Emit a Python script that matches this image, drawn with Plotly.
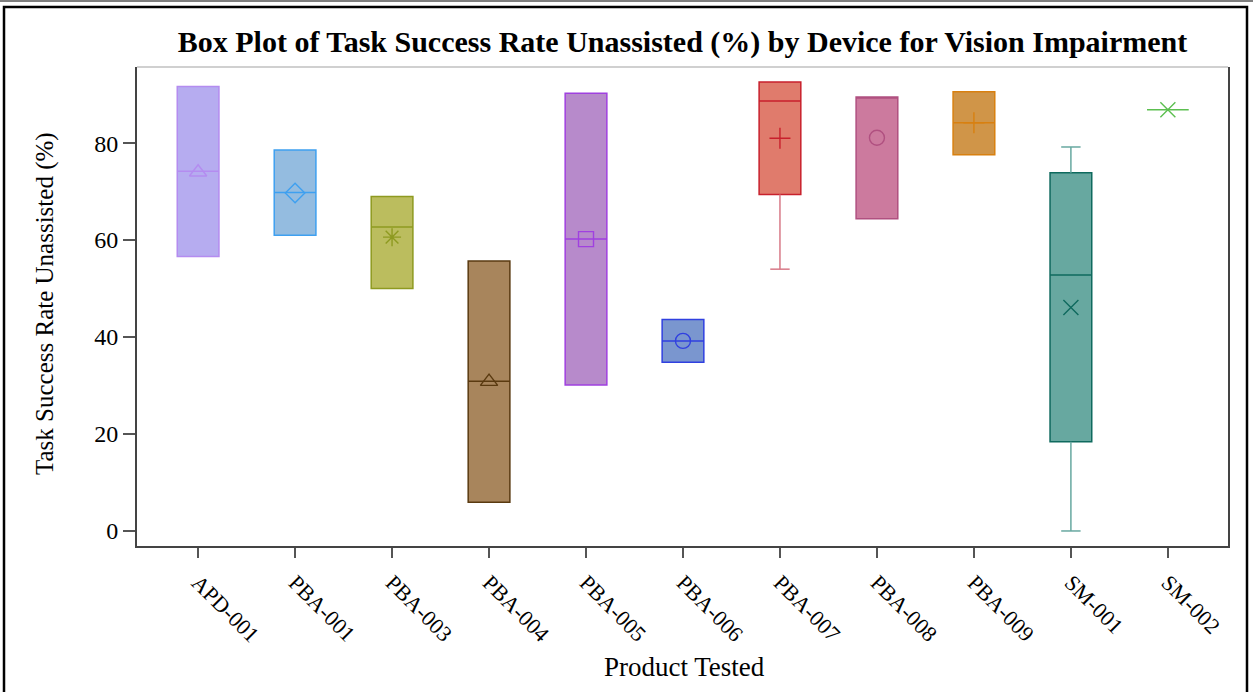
import plotly.graph_objects as go

# Summary statistics per device (Task Success Rate Unassisted, %)
devices = ["APD-001", "PBA-001", "PBA-003", "PBA-004", "PBA-005", "PBA-006",
           "PBA-007", "PBA-008", "PBA-009", "SM-001", "SM-002"]
q1 = [56.6, 61.0, 50.0, 5.9, 30.1, 34.8, 69.4, 64.4, 77.6, 18.4, 86.9]
median = [74.2, 69.8, 62.7, 30.9, 60.2, 39.2, 88.7, 89.5, 84.2, 52.8, 86.9]
q3 = [91.7, 78.6, 69.0, 55.7, 90.3, 43.6, 92.6, 89.5, 90.6, 73.9, 86.9]
minimum = [56.6, 61.0, 50.0, 5.9, 30.1, 34.8, 54.0, 64.4, 77.6, 0.0, 86.9]
maximum = [91.7, 78.6, 69.0, 55.7, 90.3, 43.6, 92.6, 89.5, 90.6, 79.2, 86.9]
mean = [74.0, 69.7, 60.6, 30.8, 60.2, 39.2, 81.0, 81.1, 84.2, 46.1, 86.9]

fill_colors = ["#B6ACF0", "#94BCE0", "#BBBD5E", "#A8855C", "#B78ACB", "#7A96CF",
               "#E07B6C", "#CC7A9E", "#D09548", "#67A8A0", "#5CBF50"]
line_colors = ["#B48CF0", "#3EA0F0", "#8E9A20", "#5A3A10", "#A040E0", "#3040E0",
               "#C8202C", "#B05080", "#D88010", "#0F6A5E", "#5CBF50"]
whisker_colors = ["#B48CF0", "#3EA0F0", "#8E9A20", "#5A3A10", "#A040E0", "#3040E0",
                  "#D87A88", "#B05080", "#D88010", "#67A8A0", "#5CBF50"]
mean_symbols = ["triangle-up-open", "diamond-open", "asterisk-open", "triangle-up-open",
                "square-open", "circle-open", "cross-thin-open", "circle-open",
                "cross-thin-open", "x-thin-open", "x-thin-open"]

BOX_W = 0.43
CAP_W = 0.2
SERIF = "Liberation Serif, Times New Roman, serif"

fig = go.Figure()

for i, dev in enumerate(devices):
    # whiskers (drawn only where they extend beyond the box)
    wx, wy = [], []
    if minimum[i] < q1[i]:
        wx += [i, i, None, i - CAP_W / 2, i + CAP_W / 2, None]
        wy += [q1[i], minimum[i], None, minimum[i], minimum[i], None]
    if maximum[i] > q3[i]:
        wx += [i, i, None, i - CAP_W / 2, i + CAP_W / 2, None]
        wy += [q3[i], maximum[i], None, maximum[i], maximum[i], None]
    if wx:
        fig.add_trace(go.Scatter(x=wx, y=wy, mode="lines",
                                 line=dict(color=whisker_colors[i], width=1.5),
                                 hoverinfo="skip", showlegend=False))

    fig.add_trace(go.Box(
        x=[i], q1=[q1[i]], median=[median[i]], q3=[q3[i]],
        lowerfence=[q1[i]], upperfence=[q3[i]],
        width=BOX_W, fillcolor=fill_colors[i],
        line=dict(color=line_colors[i], width=1.5),
        whiskerwidth=0, boxpoints=False, name=dev, showlegend=False,
    ))

# mean markers
for i, dev in enumerate(devices):
    fig.add_trace(go.Scatter(
        x=[i], y=[mean[i]], mode="markers",
        marker=dict(symbol=mean_symbols[i], size=15, color=line_colors[i],
                    line=dict(color=line_colors[i], width=1.4)),
        showlegend=False, name=dev,
    ))

PL, PR, PT, PB = 137, 1228, 67, 546
W, H = 1253, 692


def px_x(p):
    return (p - PL) / (PR - PL)


def px_y(p):
    return (PB - p) / (PB - PT)


fig.update_layout(
    width=W, height=H,
    margin=dict(l=PL, r=W - PR, t=PT, b=H - PB),
    paper_bgcolor="white", plot_bgcolor="white",
    font=dict(family=SERIF, color="black"),
    title=dict(text="<b>Box Plot of Task Success Rate Unassisted (%) by Device for Vision Impairment</b>",
               x=0.5, xref="paper", xanchor="center",
               y=1 - 41 / H, yref="container", yanchor="middle",
               font=dict(family=SERIF, size=30, color="black")),
    xaxis=dict(range=[-0.63, 10.62], tickmode="array",
               tickvals=list(range(len(devices))), ticktext=devices,
               tickangle=45, tickfont=dict(family=SERIF, size=22, color="black"),
               ticks="outside", ticklen=10, tickwidth=1.5, tickcolor="#555555",
               showline=True, linecolor="#444444", linewidth=2,
               showgrid=False, zeroline=False, ticklabelstandoff=3),
    yaxis=dict(range=[-3.1, 95.7], tickvals=[0, 20, 40, 60, 80],
               tickfont=dict(family=SERIF, size=24, color="black"),
               ticks="outside", ticklen=12, tickwidth=1.5, tickcolor="#555555",
               showline=True, linecolor="#444444", linewidth=2, mirror=True,
               showgrid=False, zeroline=False, ticklabelstandoff=0),
    annotations=[
        dict(text="Product Tested", xref="paper", yref="paper",
             x=px_x(684), y=px_y(667), xanchor="center", yanchor="middle",
             showarrow=False, font=dict(family=SERIF, size=27, color="black")),
        dict(text="Task Success Rate Unassisted (%)", xref="paper", yref="paper",
             x=px_x(45), y=px_y(304), xanchor="center", yanchor="middle",
             textangle=-90, showarrow=False,
             font=dict(family=SERIF, size=25, color="black")),
    ],
    shapes=[
        # light top frame line of the plot area
        dict(type="line", xref="paper", yref="paper", x0=0, x1=1, y0=1, y1=1,
             line=dict(color="#D0D0D0", width=2)),
        # outer border
        dict(type="rect", xref="paper", yref="paper",
             x0=px_x(4), x1=px_x(1247), y0=px_y(700), y1=px_y(7),
             line=dict(color="black", width=2.5)),
        dict(type="line", xref="paper", yref="paper",
             x0=px_x(0), x1=px_x(1253), y0=px_y(1), y1=px_y(1),
             line=dict(color="#555555", width=1.5)),
    ],
)

fig.write_html("out.html")
